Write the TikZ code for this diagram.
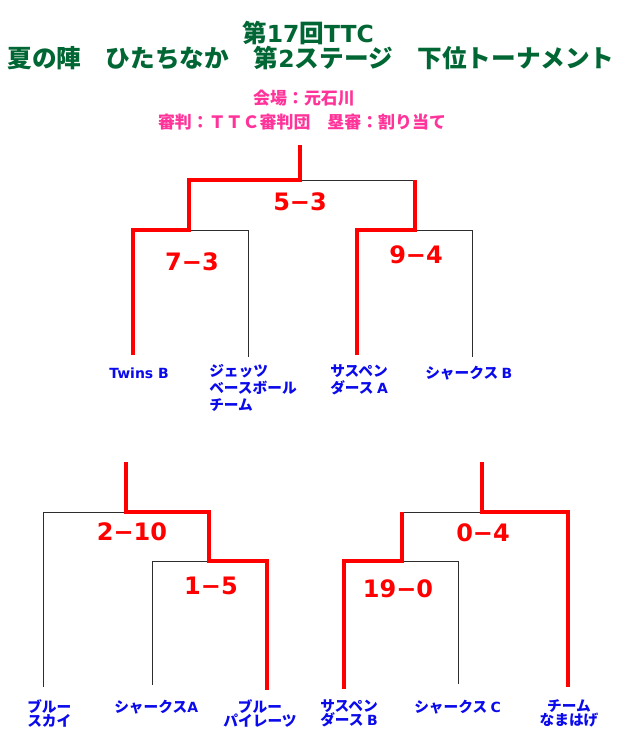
\documentclass[tikz,border=0pt]{standalone}
\usepackage{fontspec}
\setmainfont{DejaVu Sans}
\newfontfamily\jp[Scale=1.05]{Noto Sans CJK JP}
\newfontfamily\lt{DejaVu Sans}
\usepackage{xcolor}
\usetikzlibrary{positioning}
\definecolor{titlegreen}{RGB}{0,102,51}
\definecolor{infopink}{RGB}{255,51,153}
\definecolor{teamblue}{RGB}{10,10,235}
\definecolor{winred}{RGB}{255,0,0}
\definecolor{lineblack}{RGB}{45,45,45}

\begin{document}
\begin{tikzpicture}[x=0.75pt, y=-0.75pt,
    win/.style={draw=winred, line width=3pt},
    lose/.style={draw=lineblack, line width=0.75pt},
    headline/.style={font=\jp\bfseries\fontsize{17.6}{20}\selectfont, text=titlegreen, inner sep=0pt, text height=0.78em, text depth=0.08em},
    info/.style={font=\jp\bfseries\fontsize{12.1}{14}\selectfont, text=infopink, inner sep=0pt},
    score/.style={font=\bfseries\fontsize{18}{20}\selectfont, text=winred, inner sep=0pt},
    team/.style={font=\jp\bfseries\fontsize{10.5}{12.4}\selectfont, text=teamblue, inner sep=0pt, align=left, anchor=north west},
    teamlow/.style={team, font=\jp\bfseries\fontsize{10.5}{10.7}\selectfont}
  ]
    \useasboundingbox (0,0) rectangle (624,738);

    % Titel
    \node[headline] (title1) at (308,37.5) {第{\lt 17}回{\lt TTC}};
    \node[headline] (title2) at (311,63) {夏の陣　ひたちなか　第{\lt 2}ステージ　下位トーナメント};
    \node[info] (venue) at (304,98) {会場：元石川};
    \node[info] (umpire) at (302,122) {審判：ＴＴＣ審判団　塁審：割り当て};

    % 1. Oberer Block
    \coordinate (upTop) at (300,145);
    \coordinate (upFin) at (300,180);
    \coordinate (upSemiL) at (189,230);
    \coordinate (upSemiR) at (415,230);
    \coordinate (twins) at (133,355);
    \coordinate (jets) at (248,357);
    \coordinate (suspA) at (357,355);
    \coordinate (sharkB) at (472,357);
    \draw[lose] (upFin) -- (upSemiR |- upFin);
    \draw[lose] (upSemiL) -| (jets);
    \draw[lose] (upSemiR) -| (sharkB);
    \draw[win] (upTop) -- (upFin) -| (upSemiL) -| (twins);
    \draw[win] (upSemiR |- upFin) -- (upSemiR) -| (suspA);
    \node[score] (s53) at (300,202) {5−3};
    \node[score] (s73) at (192,262) {7−3};
    \node[score] (s94) at (416,255) {9−4};
    \node[team, anchor=west] (nTwins) at (109,373) {\lt Twins B};
    \node[team] (nJets) at (209,364.5) {ジェッツ\\ベースボール\\チーム};
    \node[team] (nSuspA) at (330,364.5) {サスペン\\ダース {\lt A}};
    \node[team, anchor=west] (nSharkB) at (425,373) {シャークス {\lt B}};

    % 2. Unten links
    \coordinate (lwTop) at (126,462);
    \coordinate (lwFin) at (126,512);
    \coordinate (lwSemi) at (209,561);
    \coordinate (bsky) at (43,687);
    \coordinate (sharkA) at (152,685);
    \coordinate (bpir) at (267,690);
    \draw[lose] (lwFin) -| (bsky);
    \draw[lose] (lwSemi) -| (sharkA);
    \draw[win] (lwTop) -- (lwFin) -| (lwSemi) -| (bpir);
    \node[score] (s210) at (132,532) {2−10};
    \node[score] (s15) at (211,586) {1−5};
    \node[teamlow] (nBsky) at (27,699.5) {ブルー\\スカイ};
    \node[teamlow, anchor=west] (nSharkA) at (114,707) {シャークス{\lt A}};
    \node[teamlow, anchor=north, align=center] (nBpir) at (260,699.5) {ブルー\\パイレーツ};

    % 3. Unten rechts
    \coordinate (lrTop) at (482,462);
    \coordinate (lrFin) at (482,512);
    \coordinate (lrSemi) at (402,561);
    \coordinate (suspB) at (344,689);
    \coordinate (sharkC) at (458,684);
    \coordinate (namahage) at (568,687);
    \draw[lose] (lrFin) -| (lrSemi);
    \draw[lose] (lrSemi) -| (sharkC);
    \draw[win] (lrTop) -- (lrFin) -| (namahage);
    \draw[win] (lrFin -| lrSemi) -- (lrSemi) -| (suspB);
    \node[score] (s04) at (483,533) {0−4};
    \node[score] (s190) at (398,589) {19−0};
    \node[teamlow] (nSuspB) at (320,699.5) {サスペン\\ダース {\lt B}};
    \node[teamlow, anchor=west] (nSharkC) at (414,707) {シャークス {\lt C}};
    \node[teamlow, anchor=north, align=center] (nNamahage) at (569,699.5) {チーム\\なまはげ};
\end{tikzpicture}
\end{document}
